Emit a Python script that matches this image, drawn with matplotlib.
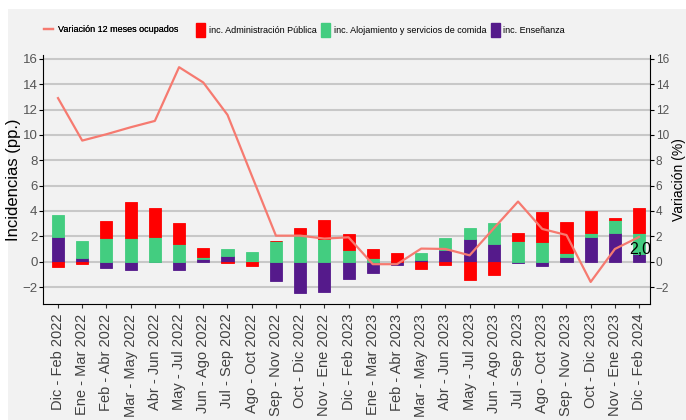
import matplotlib
matplotlib.use("Agg")
import matplotlib.pyplot as plt
from matplotlib.patches import Rectangle, Patch
from matplotlib.lines import Line2D
import numpy as np

periodos = ["Dic - Feb 2022", "Ene - Mar 2022", "Feb - Abr 2022", "Mar - May 2022",
            "Abr - Jun 2022", "May - Jul 2022", "Jun - Ago 2022", "Jul - Sep 2022",
            "Ago - Oct 2022", "Sep - Nov 2022", "Oct - Dic 2022", "Nov - Ene 2022",
            "Dic - Feb 2023", "Ene - Mar 2023", "Feb - Abr 2023", "Mar - May 2023",
            "Abr - Jun 2023", "May - Jul 2023", "Jun - Ago 2023", "Jul - Sep 2023",
            "Ago - Oct 2023", "Sep - Nov 2023", "Oct - Dic 2023", "Nov - Ene 2023",
            "Dic - Feb 2024"]

variacion = [12.9, 9.55, 10.05, 10.6, 11.1, 15.34, 14.13, 11.58, 6.8, 2.05, 2.05, 1.82, 1.92,
             -0.2, -0.2, 1.03, 1.0, 0.5, 2.63, 4.74, 2.58, 2.1, -1.6, 1.0, 1.95]
adm_publica = [-0.4, -0.16, 1.34, 2.82, 2.32, 1.66, 0.68, -0.08, -0.38, 0.0, 0.5, 1.47, 1.29,
               0.64, 0.7, -0.6, -0.27, -1.42, -1.08, 0.63, 2.32, 2.42, 1.76, 0.13, 1.97]
alojamiento = [1.76, 1.37, 1.9, 1.87, 1.92, 1.39, 0.16, 0.53, 0.74, 1.6, 2.18, 1.79, 0.88,
               0.32, 0.0, 0.56, 1.0, 0.84, 1.68, 1.6, 1.58, 0.32, 0.32, 1.0, 1.63]
ensenanza = [1.92, 0.26, -0.53, -0.66, 0.0, -0.66, 0.21, 0.47, 0.0, -1.55, -2.45, -2.37, -1.37,
             -0.9, -0.25, 0.13, 0.9, 1.79, 1.39, -0.08, -0.34, 0.39, 1.92, 2.29, 0.6]

col_red = "#ff0000"
col_green = "#43cd80"
col_purple = "#551a8b"
col_line = "#f67a70"
bg = "#f2f2f2"
plt.rcParams["font.family"] = ["Liberation Sans", "DejaVu Sans"]

fig = plt.figure(figsize=(6.86, 4.2), dpi=100, facecolor="white")
fig.patches.append(Rectangle((8 / 686, 0), 1, 411 / 420, transform=fig.transFigure,
                             facecolor=bg, edgecolor="none", zorder=-10))

ax = fig.add_axes([43 / 686, 116 / 420, 607 / 686, 249 / 420])
ax.set_facecolor("none")
x = np.arange(len(periodos))

pos_bottom = np.zeros(len(x))
neg_bottom = np.zeros(len(x))
for serie, col in [(ensenanza, col_purple), (alojamiento, col_green), (adm_publica, col_red)]:
    v = np.array(serie)
    b = np.where(v >= 0, pos_bottom, neg_bottom)
    ax.bar(x, v, width=0.5, bottom=b, color=col, edgecolor=col, linewidth=0.6, zorder=3)
    pos_bottom += np.where(v >= 0, v, 0)
    neg_bottom += np.where(v < 0, v, 0)

ax.set_xlim(-0.62, 24.45)
ax.set_ylim(-3.34, 16.3)
ax.set_yticks(np.arange(-2, 17, 2))
ax.grid(axis="y", color="#c8c8c8", linewidth=1.5, zorder=0)
ax.set_axisbelow(True)
ax.set_xticks(x)
ax.set_xticklabels(periodos, rotation=90, fontsize=10.5, color="#404040")
ax.tick_params(axis="x", length=3, pad=4, color="#333333")
ax.tick_params(axis="y", length=3, pad=1, labelsize=9.5, labelcolor="#555555")
ax.spines["top"].set_visible(False)
ax.spines["right"].set_visible(False)
ax.spines["left"].set_color("black")
ax.spines["bottom"].set_color("black")
ax.set_ylabel("Incidencias (pp.)", fontsize=12, color="black")
ax.yaxis.set_label_coords(-0.036, 0.5)

ax2 = ax.twinx()
ax2.plot(x, variacion, color=col_line, linewidth=1.6, zorder=5)
ax2.set_ylim(-3.34, 16.3)
ax2.set_yticks(np.arange(-2, 17, 2))
ax2.tick_params(axis="y", length=3, pad=1, labelsize=8.5, labelcolor="#555555")
for s in ["top", "left", "bottom"]:
    ax2.spines[s].set_visible(False)
ax2.spines["right"].set_color("black")
ax2.set_ylabel("Variación (%)", fontsize=10, color="black")
ax2.yaxis.set_label_coords(1.036, 0.5)
ax2.text(x[-1] + 0.05, variacion[-1] - 1.0, "2,0", ha="center", va="center",
         fontsize=11.5, color="black", zorder=6)

h1 = [Line2D([0], [0], color=col_line, linewidth=1.6)]
leg1 = fig.legend(h1, ["Variación 12 meses ocupados"], loc="center left",
                  bbox_to_anchor=(44 / 686, 1 - 30 / 420), frameon=False,
                  prop={"size": 6.5}, handlelength=1.0,
                  handletextpad=0.5, borderpad=0, borderaxespad=0)
fig.add_artist(leg1)
h2 = [Patch(color=col_red), Patch(color=col_green), Patch(color=col_purple)]
fig.legend(h2, ["inc. Administración Pública", "inc. Alojamiento y servicios de comida",
                "inc. Enseñanza"], loc="center left", ncol=3,
           bbox_to_anchor=(196 / 686, 1 - 30 / 420), frameon=False,
           prop={"size": 6.5}, handlelength=1.0, handleheight=1.9,
           handletextpad=0.4, columnspacing=0.5, borderpad=0, borderaxespad=0)

fig.savefig("out.png", dpi=100, facecolor="white")
